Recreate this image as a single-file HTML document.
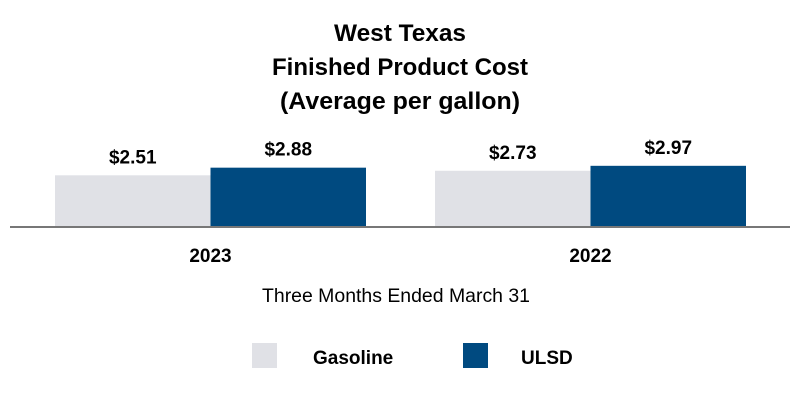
<!DOCTYPE html>
<html><head><meta charset="utf-8"><style>
body{margin:0;background:#fff;}
svg{display:block;font-family:"Liberation Sans",Arial,sans-serif;}
</style></head><body>
<svg id="chart" width="800" height="400">
<g font-weight="bold" font-size="24" text-anchor="middle" fill="#000">
<text x="400" y="41" textLength="132" lengthAdjust="spacingAndGlyphs">West Texas</text>
<text x="400" y="75" textLength="256" lengthAdjust="spacingAndGlyphs">Finished Product Cost</text>
<text x="400" y="109" textLength="240" lengthAdjust="spacingAndGlyphs">(Average per gallon)</text>
</g>
<g id="bars"></g>
<line x1="10" y1="227" x2="790" y2="227" stroke="#777" stroke-width="2"/>
<text x="396" y="302" font-size="19.5" text-anchor="middle" fill="#000" textLength="268" lengthAdjust="spacingAndGlyphs">Three Months Ended March 31</text>
<g>
<rect x="252" y="343" width="25" height="25" fill="#e0e1e6"/>
<text x="313" y="364" font-size="19" font-weight="bold">Gasoline</text>
<rect x="463" y="343" width="25" height="25" fill="#004a80"/>
<text x="521" y="364" font-size="19" font-weight="bold">ULSD</text>
</g>
</svg>
<script>
const categories = ["2023", "2022"];
const gasoline = [2.51, 2.73];
const ulsd = [2.88, 2.97];
const series = [{name:"gasoline", values:gasoline, color:"#e0e1e6"},{name:"ulsd", values:ulsd, color:"#004a80"}];
const baseY = 227, pxPerUnit = 20.6, groupStart = [55, 435], barW = 155.5;
function yScale(v){ return baseY - v * pxPerUnit; }
const g = document.getElementById('bars');
const NS = "http://www.w3.org/2000/svg";
categories.forEach((c, i) => {
  series.forEach((s, j) => {
    const v = s.values[i];
    const x = groupStart[i] + j * barW;
    const r = document.createElementNS(NS, 'rect');
    r.setAttribute('x', x); r.setAttribute('y', yScale(v));
    r.setAttribute('width', barW); r.setAttribute('height', baseY - yScale(v));
    r.setAttribute('fill', s.color);
    
    
    g.appendChild(r);
    const t = document.createElementNS(NS, 'text');
    t.setAttribute('x', x + barW / 2); t.setAttribute('y', yScale(v) - 12);
    t.setAttribute('text-anchor', 'middle'); t.setAttribute('font-size', '19'); t.setAttribute('font-weight', 'bold');
    t.textContent = '$' + v.toFixed(2);
    
    
    g.appendChild(t);
  });
  const lbl = document.createElementNS(NS, 'text');
  lbl.setAttribute('x', groupStart[i] + barW); lbl.setAttribute('y', 262);
  lbl.setAttribute('text-anchor', 'middle'); lbl.setAttribute('font-size', '19'); lbl.setAttribute('font-weight', 'bold');
  lbl.textContent = c;
  
  
  g.appendChild(lbl);
});
</script>
</body></html>
